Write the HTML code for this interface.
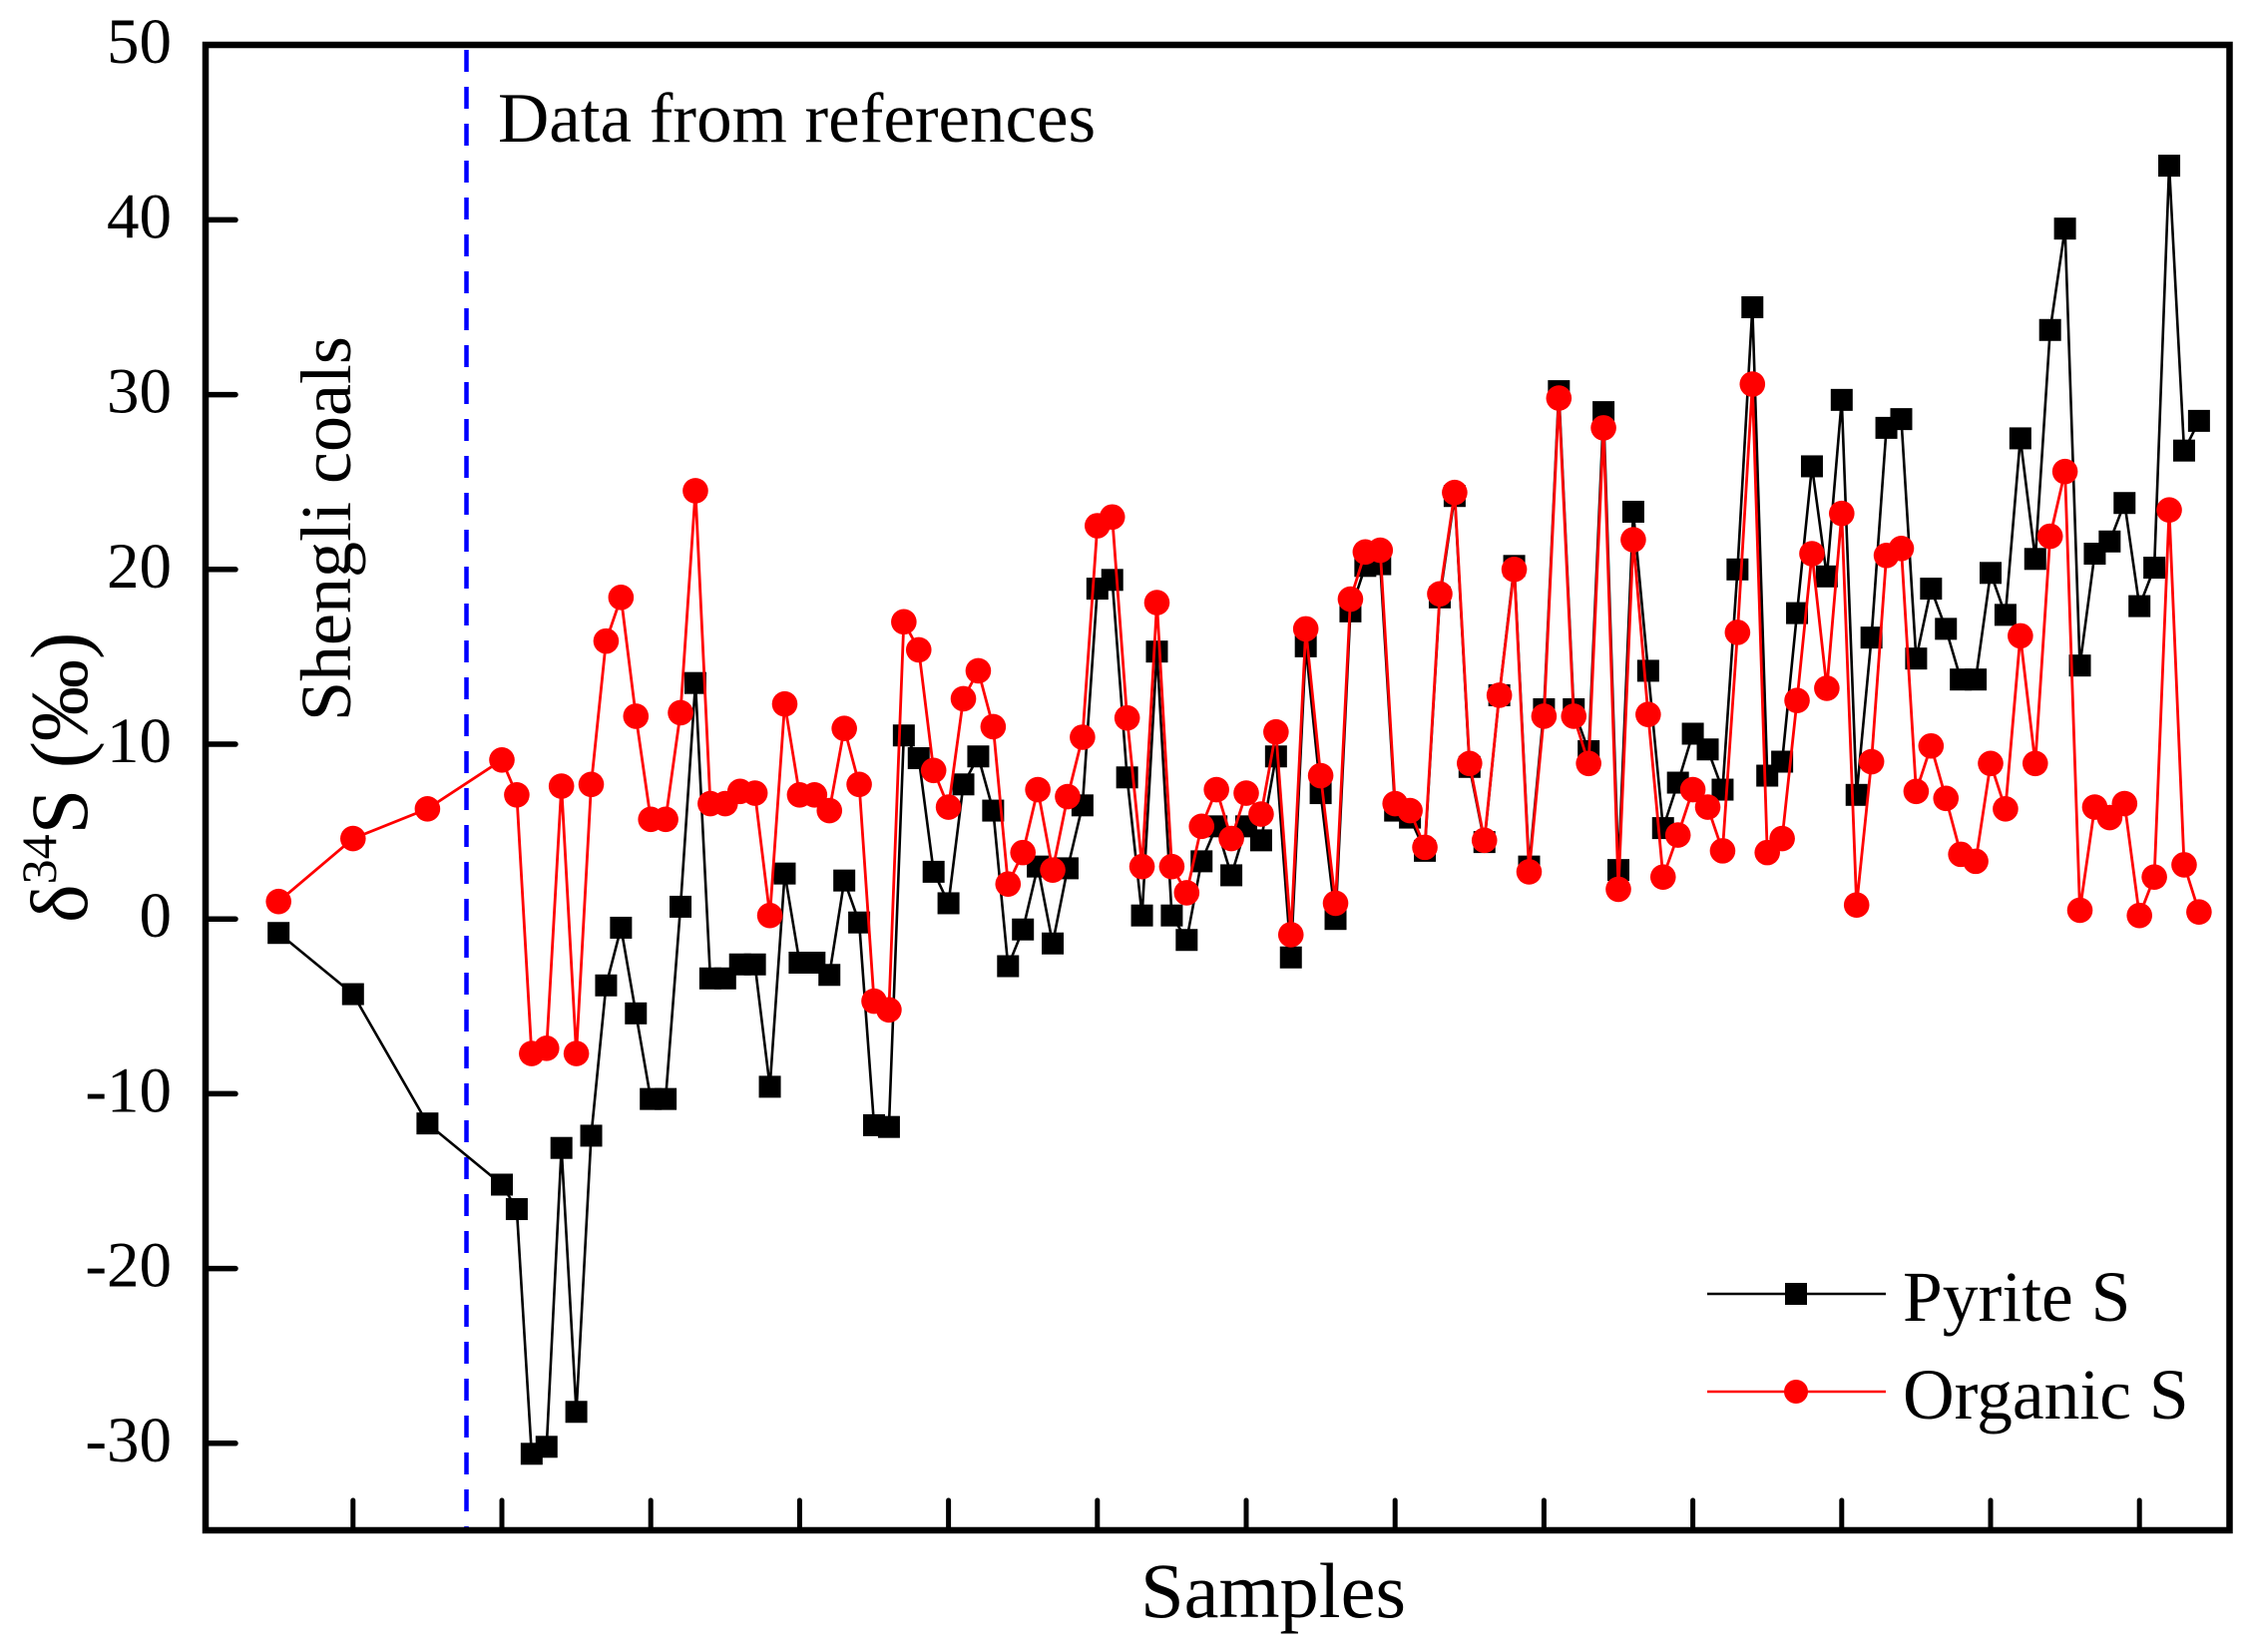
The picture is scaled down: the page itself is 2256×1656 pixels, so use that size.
<!DOCTYPE html>
<html lang="en">
<head>
<meta charset="utf-8">
<title>Sulfur isotope composition of samples</title>
<style>
html,body{margin:0;padding:0;background:#fff;}
svg{display:block;font-family:"Liberation Serif",serif;fill:#000;}
</style>
</head>
<body>
<svg id="chart" xmlns="http://www.w3.org/2000/svg" width="2256" height="1656" viewBox="0 0 2256 1656">
  <rect x="0" y="0" width="2256" height="1656" fill="#fff"/>
  <line x1="467.5" y1="50" x2="467.5" y2="1532" stroke="#0000ff" stroke-width="4.5" stroke-dasharray="22 15"/>
  <g id="ticks"></g>
  <g id="series"></g>
  <rect x="206" y="45" width="2028.5" height="1489" fill="none" stroke="#000" stroke-width="6.5"/>
  <text x="499" y="142" font-size="71">Data from references</text>
  <text transform="translate(351 723) rotate(-90)" font-size="72">Shengli coals</text>
  <text transform="translate(87 925) rotate(-90)" font-size="82">δ<tspan font-size="50" dy="-31">34</tspan><tspan dy="31">S (‰)</tspan></text>
  <text x="1143" y="1621" font-size="78.5">Samples</text>
  <g>
    <g>
      <line x1="1711" y1="1297" x2="1890" y2="1297" stroke="#000" stroke-width="2.5"/>
      <rect x="1789" y="1286" width="22" height="22" fill="#000"/>
      <text x="1907" y="1324" font-size="71.5">Pyrite S</text>
    </g>
    <g>
      <line x1="1711" y1="1395" x2="1890" y2="1395" stroke="#ff0000" stroke-width="2.5"/>
      <circle cx="1800" cy="1395" r="12" fill="#ff0000"/>
      <text x="1907" y="1422" font-size="71.5">Organic S</text>
    </g>
  </g>
</svg>
<script>
const sampleNumbers = [5,10,15,20,21,22,23,24,25,26,27,28,29,30,31,32,33,34,35,36,37,38,39,40,41,42,43,44,45,46,47,48,49,50,51,52,53,54,55,56,57,58,59,60,61,62,63,64,65,66,67,68,69,70,71,72,73,74,75,76,77,78,79,80,81,82,83,84,85,86,87,88,89,90,91,92,93,94,95,96,97,98,99,100,101,102,103,104,105,106,107,108,109,110,111,112,113,114,115,116,117,118,119,120,121,122,123,124,125,126,127,128,129,130,131,132,133,134];
const pyriteValues = [-0.8,-4.3,-11.7,-15.2,-16.6,-30.6,-30.2,-13.1,-28.2,-12.4,-3.8,-0.5,-5.4,-10.3,-10.3,0.7,13.5,-3.4,-3.4,-2.6,-2.6,-9.6,2.6,-2.5,-2.5,-3.2,2.2,-0.2,-11.8,-11.9,10.5,9.2,2.7,0.9,7.7,9.3,6.2,-2.7,-0.6,3.0,-1.4,2.9,6.5,18.9,19.4,8.1,0.2,15.3,0.2,-1.2,3.3,5.3,2.5,5.3,4.5,9.3,-2.2,15.6,7.2,0.0,17.6,20.2,20.3,6.2,5.8,3.9,18.4,24.2,8.7,4.4,12.8,20.2,3.0,12.0,30.2,12.0,9.6,29.0,2.8,23.3,14.2,5.2,7.8,10.6,9.7,7.4,20.0,35.0,8.2,9.0,17.5,25.9,19.6,29.7,7.1,16.1,28.1,28.6,14.9,18.9,16.6,13.7,13.7,19.8,17.4,27.5,20.6,33.7,39.5,14.5,20.9,21.6,23.8,17.9,20.1,43.1,26.8,28.5];
const organicValues = [1.0,4.6,6.3,9.1,7.1,-7.7,-7.4,7.6,-7.7,7.7,15.9,18.4,11.6,5.7,5.7,11.8,24.5,6.6,6.6,7.3,7.2,0.2,12.3,7.1,7.1,6.2,10.9,7.7,-4.7,-5.2,17.0,15.4,8.5,6.4,12.6,14.2,11.0,2.0,3.8,7.4,2.8,7.0,10.4,22.5,23.0,11.5,3.0,18.1,3.0,1.5,5.3,7.4,4.6,7.2,6.0,10.7,-0.9,16.6,8.2,0.9,18.3,21.0,21.1,6.6,6.2,4.1,18.6,24.4,8.9,4.5,12.8,20.0,2.7,11.6,29.8,11.6,8.9,28.1,1.7,21.7,11.7,2.4,4.8,7.4,6.4,3.9,16.4,30.6,3.8,4.6,12.5,20.9,13.2,23.2,0.8,9.0,20.8,21.2,7.3,9.9,6.9,3.7,3.3,8.9,6.3,16.2,8.9,21.9,25.6,0.5,6.4,5.8,6.6,0.2,2.4,23.4,3.1,0.4];
const yTickValues = [-30,-20,-10,0,10,20,30,40];
const yLabelValues = ["-30","-20","-10","0","10","20","30","40","50"];
const xTickValues = [10,20,30,40,50,60,70,80,90,100,110,120,130];

const SVG_NS = "http://www.w3.org/2000/svg";
function xScale(v){ return 353.8 + (v - 10) * 14.92; }
function yScale(v){ return 921.2 - v * 17.52; }
function make(tag, parent){
  const el = document.createElementNS(SVG_NS, tag);
  parent.appendChild(el);
  return el;
}
const ticksGroup = document.getElementById("ticks");
const seriesGroup = document.getElementById("series");

yTickValues.forEach(function(v){
  const t = make("line", ticksGroup);
  
  
  t.setAttribute("x1", 206);
  t.setAttribute("x2", 236);
  t.setAttribute("y1", yScale(v));
  t.setAttribute("y2", yScale(v));
  t.setAttribute("stroke", "#000");
  t.setAttribute("stroke-width", 5.5);
  t.setAttribute("stroke-linecap", "round");
});
yLabelValues.forEach(function(label){
  const t = make("text", ticksGroup);
  
  
  t.setAttribute("x", 172);
  t.setAttribute("y", yScale(Number(label)) + 18);
  t.setAttribute("text-anchor", "end");
  t.setAttribute("font-size", 65);
  t.textContent = label;
});
xTickValues.forEach(function(v){
  const t = make("line", ticksGroup);
  
  
  t.setAttribute("x1", xScale(v));
  t.setAttribute("x2", xScale(v));
  t.setAttribute("y1", 1534);
  t.setAttribute("y2", 1504);
  t.setAttribute("stroke", "#000");
  t.setAttribute("stroke-width", 5);
  t.setAttribute("stroke-linecap", "round");
});

function linePoints(values){
  return values.map(function(v, i){
    return xScale(sampleNumbers[i]).toFixed(1) + "," + yScale(v).toFixed(1);
  }).join(" ");
}

const pyriteLine = make("polyline", seriesGroup);


pyriteLine.setAttribute("points", linePoints(pyriteValues));
pyriteLine.setAttribute("fill", "none");
pyriteLine.setAttribute("stroke", "#000");
pyriteLine.setAttribute("stroke-width", 2.6);

pyriteValues.forEach(function(v, i){
  const m = make("rect", seriesGroup);
  
  
  m.setAttribute("x", xScale(sampleNumbers[i]) - 11);
  m.setAttribute("y", yScale(v) - 11);
  m.setAttribute("width", 22);
  m.setAttribute("height", 22);
  m.setAttribute("fill", "#000");
});

const organicLine = make("polyline", seriesGroup);


organicLine.setAttribute("points", linePoints(organicValues));
organicLine.setAttribute("fill", "none");
organicLine.setAttribute("stroke", "#ff0000");
organicLine.setAttribute("stroke-width", 2.8);

organicValues.forEach(function(v, i){
  const m = make("circle", seriesGroup);
  
  
  m.setAttribute("cx", xScale(sampleNumbers[i]));
  m.setAttribute("cy", yScale(v));
  m.setAttribute("r", 12.8);
  m.setAttribute("fill", "#ff0000");
});
</script>
</body>
</html>
